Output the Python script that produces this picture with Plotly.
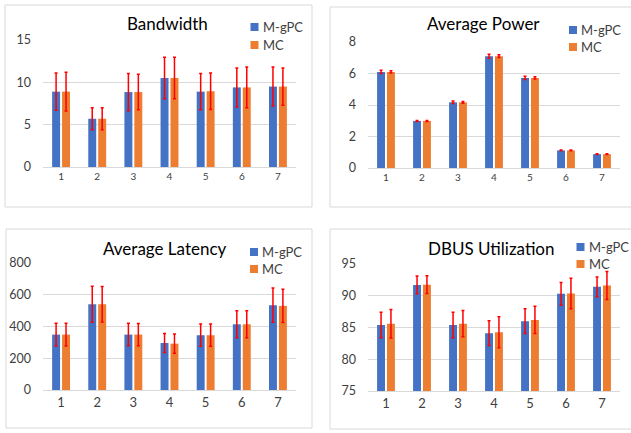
import plotly.graph_objects as go

W, H = 631, 433

categories = ["1", "2", "3", "4", "5", "6", "7"]
series_names = ["M-gPC", "MC"]

bw_mgpc = [8.9, 5.7, 8.85, 10.5, 8.9, 9.4, 9.5]
bw_mgpc_err = [2.2, 1.3, 2.2, 2.45, 2.15, 2.3, 2.3]
bw_mc = [8.9, 5.7, 8.85, 10.5, 8.95, 9.4, 9.5]
bw_mc_err = [2.3, 1.3, 2.1, 2.45, 2.15, 2.4, 2.2]

pw_mgpc = [6.1, 2.99, 4.17, 7.1, 5.72, 1.12, 0.88]
pw_mgpc_err = [0.1, 0.03, 0.08, 0.13, 0.1, 0.03, 0.02]
pw_mc = [6.1, 2.99, 4.17, 7.1, 5.72, 1.12, 0.88]
pw_mc_err = [0.07, 0.03, 0.06, 0.09, 0.07, 0.03, 0.02]

lat_mgpc = [349, 540, 349, 296, 345, 414, 534]
lat_mgpc_err = [72, 113, 71, 60, 70, 85, 108]
lat_mc = [349, 540, 349, 292, 345, 414, 530]
lat_mc_err = [72, 112, 70, 60, 70, 85, 105]

db_mgpc = [85.4, 91.7, 85.4, 84.1, 86.0, 90.3, 91.4]
db_mgpc_err = [2.0, 1.4, 2.0, 1.95, 1.95, 1.8, 1.55]
db_mc = [85.6, 91.75, 85.6, 84.25, 86.2, 90.35, 91.6]
db_mc_err = [2.25, 1.4, 2.07, 2.45, 2.15, 2.4, 2.2]

BLUE = "#4472C4"
ORANGE = "#ED7D31"
GRID = "#D9D9D9"
FONT = "Lato"
TXT = "#404040"


def fx(px):
    return px / W


def fy(py):
    return 1 - py / H


panels = [
    dict(title="Bandwidth", a=bw_mgpc, ae=bw_mgpc_err, b=bw_mc, be=bw_mc_err,
         xd=(43, 296), yd=(167, 40), rng=[0, 15], dt=5, xfs=10,
         tpos=(167, 23), leg=(254.5, 27, 45), box=(5, 5, 312, 207)),
    dict(title="Average Power", a=pw_mgpc, ae=pw_mgpc_err, b=pw_mc, be=pw_mc_err,
         xd=(368, 620), yd=(168, 42), rng=[0, 8], dt=2, xfs=10,
         tpos=(483, 24), leg=(573, 30, 47), box=(330, 7, 645, 207)),
    dict(title="Average Latency", a=lat_mgpc, ae=lat_mgpc_err, b=lat_mc, be=lat_mc_err,
         xd=(43, 296), yd=(390, 263), rng=[0, 800], dt=200, xfs=13,
         tpos=(165, 248), leg=(254, 252, 269), box=(6, 229, 312, 428)),
    dict(title="DBUS Utilization", a=db_mgpc, ae=db_mgpc_err, b=db_mc, be=db_mc_err,
         xd=(368, 620), yd=(391, 264), rng=[75, 95], dt=5, xfs=13,
         tpos=(491, 248), leg=(580.5, 247, 264), box=(330, 229, 645, 429)),
]

fig = go.Figure()
layout = dict(
    width=W, height=H, margin=dict(l=0, r=0, t=0, b=0, autoexpand=False),
    paper_bgcolor="white", plot_bgcolor="white",
    barmode="group", bargap=0.45, bargroupgap=0.2,
    font=dict(family=FONT, color=TXT),
    showlegend=False,
    annotations=[], shapes=[],
)

for i, p in enumerate(panels):
    n = i + 1
    xa = "x" if n == 1 else f"x{n}"
    ya = "y" if n == 1 else f"y{n}"
    for name, vals, errs, col in [(series_names[0], p["a"], p["ae"], BLUE),
                                  (series_names[1], p["b"], p["be"], ORANGE)]:
        fig.add_trace(go.Bar(
            x=categories, y=vals, name=name, marker=dict(color=col, line=dict(width=0)),
            error_y=dict(type="data", array=errs, visible=True, color="#FF0000",
                         thickness=1.5, width=1.5),
            xaxis=xa, yaxis=ya,
        ))
    layout[f"xaxis{'' if n == 1 else n}"] = dict(
        domain=[fx(p["xd"][0]), fx(p["xd"][1])], anchor=ya, type="category",
        showline=True, linecolor=GRID, linewidth=1, showgrid=False, ticks="",
        tickfont=dict(size=p["xfs"], color=TXT, family=FONT), fixedrange=True,
    )
    layout[f"yaxis{'' if n == 1 else n}"] = dict(
        domain=[fy(p["yd"][0]), fy(p["yd"][1])], anchor=xa, range=p["rng"], dtick=p["dt"],
        showgrid=True, gridcolor=GRID, gridwidth=1, zeroline=False, showline=False,
        ticks="", ticklabelstandoff=11,
        tickfont=dict(size=12.5, color=TXT, family=FONT), fixedrange=True,
    )
    layout["annotations"].append(dict(
        text=p["title"], x=fx(p["tpos"][0]), y=fy(p["tpos"][1]), xref="paper", yref="paper",
        xanchor="center", yanchor="middle", showarrow=False,
        font=dict(size=17, color="#000000", family=FONT),
    ))
    bx = p["box"]
    layout["shapes"].append(dict(
        type="rect", xref="paper", yref="paper",
        x0=fx(bx[0]), x1=fx(bx[2]), y0=fy(bx[3]), y1=fy(bx[1]),
        line=dict(color=GRID, width=1), fillcolor="rgba(0,0,0,0)", layer="below",
    ))
    # legend (swatch + label) for this panel
    lx, ly1, ly2 = p["leg"]
    for name, col, ly in [(series_names[0], BLUE, ly1), (series_names[1], ORANGE, ly2)]:
        layout["shapes"].append(dict(
            type="rect", xref="paper", yref="paper",
            x0=fx(lx - 4), x1=fx(lx + 4), y0=fy(ly + 4), y1=fy(ly - 4),
            line=dict(width=0), fillcolor=col, layer="above",
        ))
        layout["annotations"].append(dict(
            text=name, x=fx(lx + 6), y=fy(ly), xref="paper", yref="paper",
            xanchor="left", yanchor="middle", showarrow=False,
            font=dict(size=13, color=TXT, family=FONT),
        ))

fig.update_layout(**layout)
fig.write_html(
    "out.html",
    config={"displayModeBar": False, "staticPlot": True},
    post_script="document.body.style.margin='0';document.body.style.padding='0';"
                "document.body.style.overflow='hidden';",
)
